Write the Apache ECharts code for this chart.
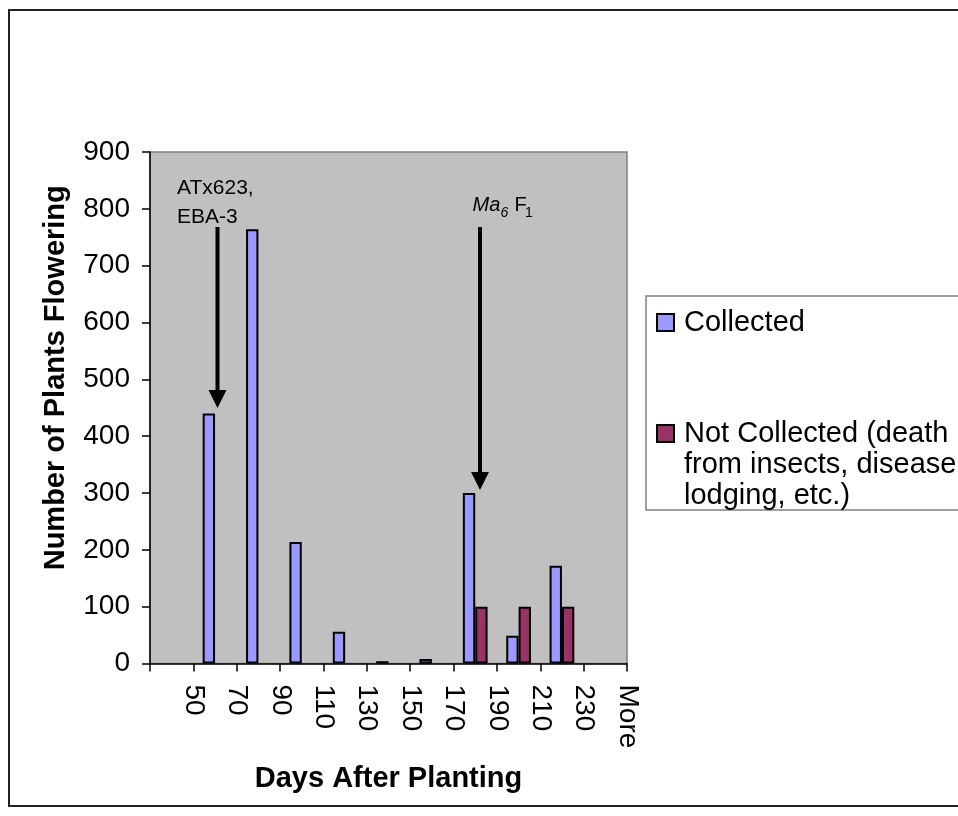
<!DOCTYPE html>
<html>
<head>
<meta charset="utf-8">
<script src="https://cdn.jsdelivr.net/npm/echarts@6/dist/echarts.min.js"></script>
<style>
html,body{margin:0;padding:0;background:#fff;}
#chart{width:958px;height:816px;}
</style>
</head>
<body>
<div id="chart"></div>
<script>
const categories = ['50', '70', '90', '110', '130', '150', '170', '190', '210', '230', 'More'];
const collected = [0, 440, 764, 214, 56, 4, 8, 300, 49, 172, 0];
const notCollected = [0, 0, 0, 0, 0, 0, 0, 100, 100, 100, 0];
const yTicks = { min: 0, max: 900, interval: 100 };
const seriesNames = ['Collected', 'Not Collected (death\nfrom insects, disease,\nlodging, etc.)'];

const FONT = "'Liberation Sans', Arial, sans-serif";
// empty bins draw no bar (avoid zero-height border strokes on the axis)
const asBars = arr => arr.map(v => (v === 0 ? '-' : v));

const chart = echarts.init(document.getElementById('chart'), null, { renderer: 'canvas' });

chart.setOption({
  backgroundColor: '#ffffff',
  animation: false,
  grid: {
    left: 150, right: 331, top: 152, bottom: 152.5,
    show: true, backgroundColor: '#c0c0c0', borderColor: '#808080', borderWidth: 1.5,
    containLabel: false, outerBoundsMode: 'none'
  },
  xAxis: {
    type: 'category',
    data: categories,
    name: 'Days After Planting',
    nameLocation: 'middle',
    nameGap: 101,
    nameTextStyle: { fontFamily: FONT, fontSize: 29, fontWeight: 'bold', color: '#000' },
    axisLine: { show: true, lineStyle: { color: '#000', width: 1.5 } },
    axisTick: { show: true, inside: false, length: 8, alignWithLabel: false, interval: 0, lineStyle: { color: '#000', width: 1.5 } },
    axisLabel: {
      interval: 0, rotate: -90, margin: 21,
      fontFamily: FONT, fontSize: 28, color: '#000',
      verticalAlign: 'bottom', lineHeight: 44
    },
    splitLine: { show: false }
  },
  yAxis: {
    type: 'value',
    min: yTicks.min, max: yTicks.max, interval: yTicks.interval,
    name: 'Number of Plants Flowering',
    nameLocation: 'middle',
    nameGap: 80,
    nameTextStyle: { fontFamily: FONT, fontSize: 29, fontWeight: 'bold', color: '#000', padding: [0, 0, 0, 60] },
    axisLine: { show: true, lineStyle: { color: '#000', width: 1.5 } },
    axisTick: { show: true, inside: false, length: 8, lineStyle: { color: '#000', width: 1.5 } },
    axisLabel: { margin: 20, fontFamily: FONT, fontSize: 28, color: '#000' },
    splitLine: { show: false }
  },
  legend: [
    {
      data: [seriesNames[0]],
      orient: 'vertical',
      left: 656, top: 308,
      padding: 0,
      itemWidth: 17, itemHeight: 17,
      icon: 'rect',
      textStyle: { fontFamily: FONT, fontSize: 29, color: '#000', padding: [0, 0, 0, 5] }
    },
    {
      data: [seriesNames[1]],
      orient: 'vertical',
      left: 656, top: 356,
      padding: 0,
      itemWidth: 17, itemHeight: 17,
      icon: 'rect',
      formatter: function (name) { return '\n\n' + name; },
      textStyle: { fontFamily: FONT, fontSize: 29, color: '#000', lineHeight: 31, padding: [0, 0, 0, 5] }
    }
  ],
  series: [
    {
      name: seriesNames[0], type: 'bar', data: asBars(collected),
      barGap: '0%', barCategoryGap: '43%',
      itemStyle: { color: '#9999ff', borderColor: '#000', borderWidth: 2 }
    },
    {
      name: seriesNames[1], type: 'bar', data: asBars(notCollected),
      barGap: '0%', barCategoryGap: '43%',
      itemStyle: { color: '#993366', borderColor: '#000', borderWidth: 2 }
    }
  ],
  graphic: [
    { type: 'rect', z: -10, shape: { x: 9, y: 10, width: 1000, height: 796 }, style: { fill: 'none', stroke: '#222', lineWidth: 2 } },
    { type: 'rect', z: 1, shape: { x: 646, y: 296, width: 400, height: 214 }, style: { fill: '#fff', stroke: '#808080', lineWidth: 1.5 } },
    // annotation: ATx623, EBA-3
    { type: 'text', z: 10, style: { text: 'ATx623,', x: 177, y: 188.5, font: "21px 'Liberation Sans', Arial, sans-serif", fill: '#000', verticalAlign: 'middle' } },
    { type: 'text', z: 10, style: { text: 'EBA-3', x: 177, y: 217.5, font: "21px 'Liberation Sans', Arial, sans-serif", fill: '#000', verticalAlign: 'middle' } },
    { type: 'line', z: 10, shape: { x1: 217.5, y1: 227, x2: 217.5, y2: 393 }, style: { stroke: '#000', lineWidth: 4 } },
    { type: 'polygon', z: 10, shape: { points: [[208.5, 390], [226.5, 390], [217.5, 408]] }, style: { fill: '#000' } },
    // annotation: Ma6 F1
    { type: 'text', z: 10, style: { text: 'Ma', x: 472.5, y: 205.5, font: "italic 20px 'Liberation Sans', Arial, sans-serif", fill: '#000', verticalAlign: 'middle' } },
    { type: 'text', z: 10, style: { text: '6', x: 500.5, y: 213, font: "italic 14px 'Liberation Sans', Arial, sans-serif", fill: '#000', verticalAlign: 'middle' } },
    { type: 'text', z: 10, style: { text: 'F', x: 514.5, y: 205.5, font: "20px 'Liberation Sans', Arial, sans-serif", fill: '#000', verticalAlign: 'middle' } },
    { type: 'text', z: 10, style: { text: '1', x: 525, y: 213, font: "14px 'Liberation Sans', Arial, sans-serif", fill: '#000', verticalAlign: 'middle' } },
    { type: 'line', z: 10, shape: { x1: 480, y1: 227, x2: 480, y2: 475 }, style: { stroke: '#000', lineWidth: 4 } },
    { type: 'polygon', z: 10, shape: { points: [[471, 472], [489, 472], [480, 490]] }, style: { fill: '#000' } }
  ]
});
</script>
</body>
</html>
